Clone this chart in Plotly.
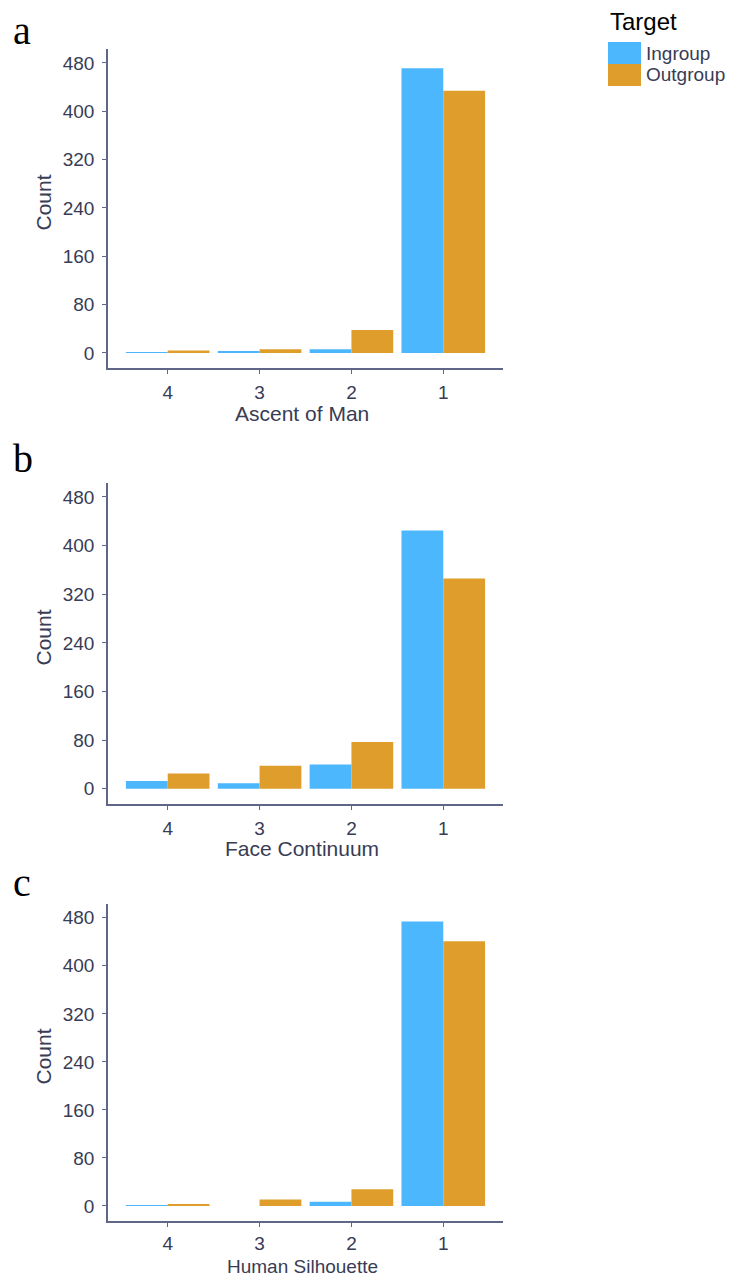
import plotly.graph_objects as go

categories = ["4", "3", "2", "1"]
panel_titles = ["Ascent of Man", "Face Continuum", "Human Silhouette"]
panel_letters = ["a", "b", "c"]
ingroup_a = [1, 3, 6, 471]
outgroup_a = [4, 6, 38, 434]
ingroup_b = [13, 9, 40, 425]
outgroup_b = [25, 38, 77, 346]
ingroup_c = [1, 0, 7, 474]
outgroup_c = [3, 11, 28, 441]
y_ticks = [0, 80, 160, 240, 320, 400, 480]

ingroup = [ingroup_a, ingroup_b, ingroup_c]
outgroup = [outgroup_a, outgroup_b, outgroup_c]

PAGE_W, PAGE_H = 739, 1285
O = 8  # default body margin of the html page
W, H = PAGE_W - 2 * O, PAGE_H - 2 * O
C_IN = "#4db7fd"
C_OUT = "#df9e2b"
AX = "#5f6687"
TXT = "#383c55"

# page-pixel layout of each panel (top, bottom)
panels_px = [(49, 368), (483, 804), (904, 1221)]
x_left, x_right = 108, 503
title_px = [413, 848, 1266]
title_size = [21, 21, 19]
tick_standoff = [2, 2, 0]
letter_px = [30, 459, 882]

def px(v):
    return (v - O) / W

def py(v):
    return 1 - (v - O) / H

fig = go.Figure()
layout = dict(
    width=W, height=H,
    margin=dict(l=0, r=0, t=0, b=0),
    paper_bgcolor="white", plot_bgcolor="white",
    barmode="group", bargap=0.09, bargroupgap=0,
    showlegend=False,
    font=dict(family="Liberation Sans", color=TXT),
)
annotations = []
shapes = []

for i in range(3):
    sfx = "" if i == 0 else str(i + 1)
    xa, ya = "x" + sfx, "y" + sfx
    fig.add_trace(go.Bar(x=categories, y=ingroup[i], name="Ingroup",
                         marker=dict(color=C_IN, line=dict(width=0)),
                         xaxis=xa, yaxis=ya))
    fig.add_trace(go.Bar(x=categories, y=outgroup[i], name="Outgroup",
                         marker=dict(color=C_OUT, line=dict(width=0)),
                         xaxis=xa, yaxis=ya))
    top, bot = panels_px[i]
    layout["xaxis" + sfx] = dict(
        domain=[px(x_left), px(x_right)], anchor=ya,
        type="category", categoryorder="array", categoryarray=categories,
        range=[-0.65, 3.65],
        showline=True, linecolor=AX, linewidth=1.5,
        ticks="outside", ticklen=4, tickcolor=AX, tickwidth=1,
        ticklabelstandoff=tick_standoff[i],
        tickfont=dict(size=19, color=TXT, family="Liberation Sans"),
        showgrid=False, zeroline=False, fixedrange=True,
    )
    layout["yaxis" + sfx] = dict(
        domain=[py(bot), py(top)], anchor=xa,
        range=[-25, 503],
        tickvals=y_ticks,
        showline=True, linecolor=AX, linewidth=1.5,
        ticks="outside", ticklen=4, tickcolor=AX, tickwidth=1,
        ticklabelstandoff=4,
        tickfont=dict(size=19, color=TXT, family="Liberation Sans"),
        showgrid=False, zeroline=False, fixedrange=True,
    )
    # y title
    annotations.append(dict(
        text="Count", xref="paper", yref="paper",
        x=px(43), y=py((top + bot) / 2 - 6), textangle=-90,
        showarrow=False, xanchor="center", yanchor="middle",
        font=dict(size=21, color=TXT, family="Liberation Sans")))
    # x title
    annotations.append(dict(
        text=panel_titles[i], xref="paper", yref="paper",
        x=px(302), y=py(title_px[i]), showarrow=False,
        xanchor="center", yanchor="middle",
        font=dict(size=title_size[i], color=TXT, family="Liberation Sans")))
    # panel letter
    annotations.append(dict(
        text=panel_letters[i], xref="paper", yref="paper",
        x=px(11), y=py(letter_px[i]), showarrow=False,
        xanchor="left", yanchor="middle",
        font=dict(size=40, color="black", family="Liberation Serif")))

# legend drawn manually
annotations.append(dict(
    text="Target", xref="paper", yref="paper", x=px(608), y=py(21),
    showarrow=False, xanchor="left", yanchor="middle",
    font=dict(size=24, color="black", family="Liberation Sans")))
for j, (lbl, col) in enumerate([("Ingroup", C_IN), ("Outgroup", C_OUT)]):
    y0 = 42 + j * 22
    shapes.append(dict(type="rect", xref="paper", yref="paper",
                       x0=px(608), x1=px(641), y0=py(y0 + 22), y1=py(y0),
                       fillcolor=col, line=dict(width=0)))
    annotations.append(dict(
        text=lbl, xref="paper", yref="paper", x=px(644), y=py(y0 + 11),
        showarrow=False, xanchor="left", yanchor="middle",
        font=dict(size=19, color=TXT, family="Liberation Sans")))

layout["annotations"] = annotations
layout["shapes"] = shapes
fig.update_layout(**layout)
fig.write_html("out.html")
